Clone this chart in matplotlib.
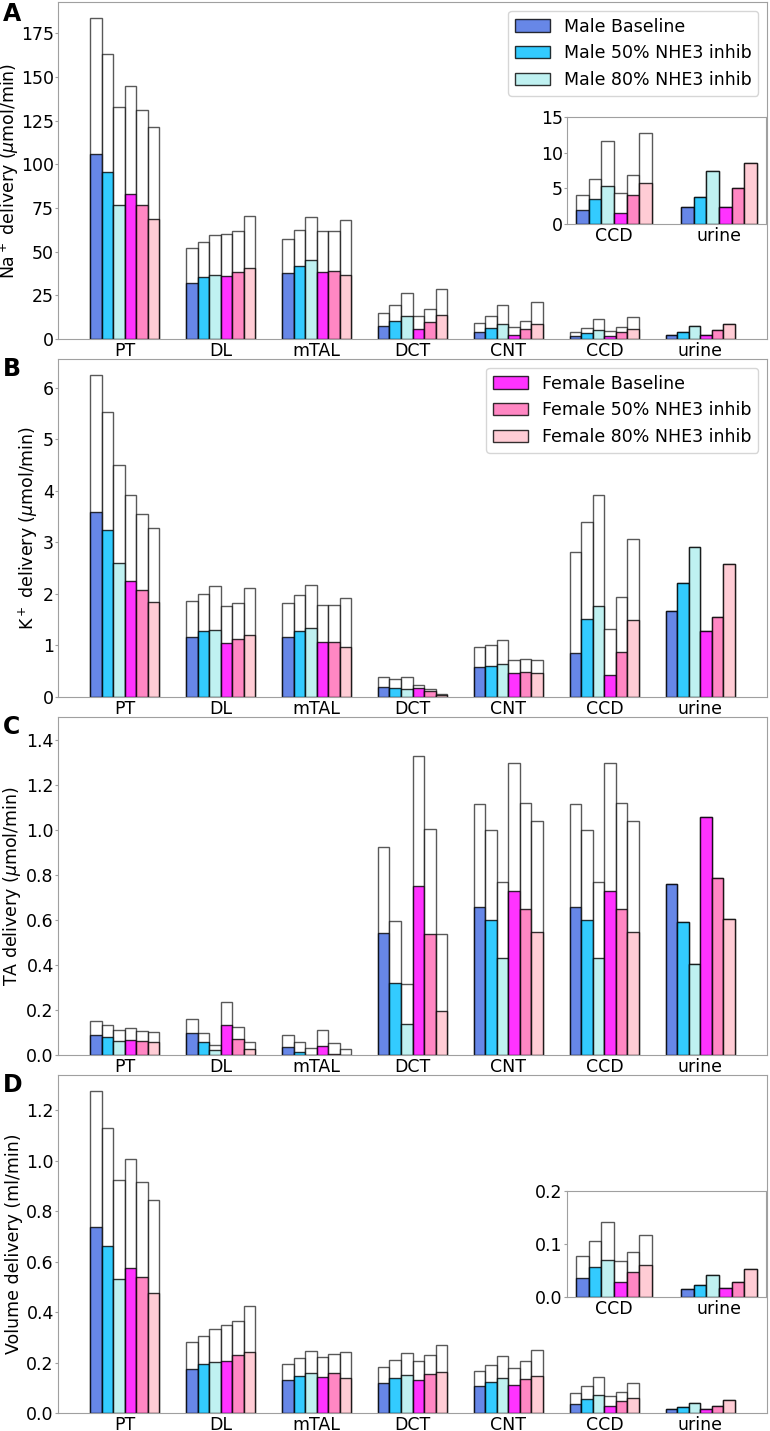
import numpy as np
import matplotlib
matplotlib.use('Agg')
import matplotlib.pyplot as plt

segs = ['PT', 'DL', 'mTAL', 'DCT', 'CNT', 'CCD', 'urine']
series = ['Male Baseline', 'Male 50% NHE3 inhib', 'Male 80% NHE3 inhib',
          'Female Baseline', 'Female 50% NHE3 inhib', 'Female 80% NHE3 inhib']
cores = ['royalblue', 'deepskyblue', 'paleturquoise', 'magenta', 'hotpink', 'pink']

# valores: linha = segmento, coluna = serie
# "tot" = barra branca (entrada), "col" = barra colorida (saida)
na_tot = [[183.8, 163.0, 132.7, 145.1, 131.0, 121.2],
          [51.9, 55.5, 59.3, 60.2, 61.8, 70.7],
          [57.0, 62.3, 70.0, 61.8, 61.8, 68.1],
          [14.9, 19.4, 26.3, 13.0, 17.2, 28.8],
          [9.2, 13.2, 19.6, 6.7, 10.3, 21.0],
          [4.0, 6.3, 11.7, 4.4, 6.9, 12.7],
          [2.4, 3.8, 7.5, 2.4, 5.0, 8.6]]
na_col = [[106.0, 95.5, 76.6, 82.9, 77.0, 68.6],
          [32.0, 35.5, 36.4, 35.8, 38.3, 40.6],
          [37.6, 41.7, 45.0, 38.1, 38.7, 36.6],
          [7.2, 10.3, 13.2, 5.7, 9.9, 13.7],
          [3.8, 6.3, 8.8, 2.3, 5.7, 8.8],
          [1.9, 3.5, 5.3, 1.6, 4.0, 5.8],
          [2.4, 3.8, 7.5, 2.4, 5.0, 8.6]]

k_tot = [[6.25, 5.53, 4.51, 3.93, 3.56, 3.28],
         [1.86, 2.00, 2.15, 1.77, 1.83, 2.11],
         [1.83, 1.99, 2.17, 1.78, 1.78, 1.92],
         [0.38, 0.34, 0.38, 0.23, 0.15, 0.06],
         [0.97, 1.01, 1.11, 0.72, 0.74, 0.72],
         [2.82, 3.39, 3.92, 1.32, 1.94, 3.07],
         [1.67, 2.21, 2.91, 1.28, 1.56, 2.58]]
k_col = [[3.60, 3.24, 2.61, 2.25, 2.08, 1.85],
         [1.17, 1.28, 1.31, 1.04, 1.12, 1.20],
         [1.17, 1.28, 1.34, 1.06, 1.06, 0.98],
         [0.19, 0.17, 0.16, 0.17, 0.11, 0.04],
         [0.58, 0.61, 0.64, 0.47, 0.49, 0.47],
         [0.85, 1.52, 1.76, 0.43, 0.87, 1.50],
         [1.67, 2.21, 2.91, 1.28, 1.56, 2.58]]

ta_tot = [[0.151, 0.135, 0.111, 0.120, 0.107, 0.102],
          [0.158, 0.098, 0.044, 0.235, 0.124, 0.058],
          [0.090, 0.058, 0.033, 0.111, 0.053, 0.028],
          [0.923, 0.596, 0.314, 1.329, 1.002, 0.537],
          [1.114, 0.997, 0.767, 1.296, 1.120, 1.037],
          [1.114, 0.997, 0.767, 1.296, 1.120, 1.037],
          [0.759, 0.589, 0.404, 1.055, 0.786, 0.602]]
ta_col = [[0.087, 0.078, 0.064, 0.068, 0.062, 0.056],
          [0.096, 0.058, 0.022, 0.133, 0.071, 0.027],
          [0.034, 0.012, 0.002, 0.038, 0.003, 0.002],
          [0.542, 0.318, 0.138, 0.749, 0.539, 0.194],
          [0.657, 0.598, 0.432, 0.728, 0.648, 0.545],
          [0.657, 0.598, 0.432, 0.728, 0.648, 0.545],
          [0.759, 0.589, 0.404, 1.055, 0.786, 0.602]]

vol_tot = [[1.275, 1.130, 0.922, 1.008, 0.914, 0.842],
           [0.282, 0.305, 0.332, 0.347, 0.366, 0.423],
           [0.196, 0.216, 0.244, 0.220, 0.233, 0.242],
           [0.184, 0.208, 0.238, 0.207, 0.230, 0.268],
           [0.168, 0.192, 0.224, 0.179, 0.204, 0.250],
           [0.078, 0.105, 0.141, 0.068, 0.084, 0.117],
           [0.016, 0.023, 0.041, 0.017, 0.029, 0.052]]
vol_col = [[0.735, 0.660, 0.532, 0.575, 0.540, 0.474],
           [0.175, 0.195, 0.203, 0.204, 0.230, 0.241],
           [0.132, 0.148, 0.160, 0.143, 0.159, 0.138],
           [0.119, 0.139, 0.152, 0.130, 0.156, 0.164],
           [0.105, 0.124, 0.140, 0.109, 0.136, 0.148],
           [0.036, 0.057, 0.070, 0.029, 0.047, 0.061],
           [0.016, 0.023, 0.041, 0.017, 0.029, 0.052]]

largura = 0.12
cinza = '#a0a0a0'


def barras(ax, tot, col, idx):
    tot = np.array(tot)[idx]
    col = np.array(col)[idx]
    x = np.arange(len(idx))
    for j in range(6):
        pos = x + (j - 2.5) * largura
        ax.bar(pos, tot[:, j], largura, color='white', edgecolor='k', alpha=0.65, linewidth=1)
        ax.bar(pos, col[:, j], largura, color=cores[j], edgecolor='k', alpha=0.8,
               linewidth=1, label=series[j])
    ax.set_xticks(x)
    ax.set_xticklabels([segs[i] for i in idx])
    for s in ax.spines.values():
        s.set_color(cinza)
    ax.tick_params(axis='y', length=2, color=cinza, labelsize=12.5, pad=1)
    ax.tick_params(axis='x', length=0, labelsize=12.5, pad=2)


fig = plt.figure(figsize=(7.7, 14.31), dpi=100)
W, H = 770.0, 1431.0


def eixo(l, t, r, b):
    return fig.add_axes([l / W, 1 - b / H, (r - l) / W, (b - t) / H])


tudo = list(range(7))
ax1 = eixo(58, 2, 767, 339)
barras(ax1, na_tot, na_col, tudo)
ax1.set_ylabel(r'Na$^+$ delivery ($\mu$mol/min)', fontsize=12.5, labelpad=0)
h, l = ax1.get_legend_handles_labels()
ax1.legend(h[:3], l[:3], loc='upper right', fontsize=12.5)

in1 = eixo(567, 117, 766, 224)
barras(in1, na_tot, na_col, [5, 6])
in1.set_ylim(0, 15)
in1.set_yticks([0, 5, 10, 15])

ax2 = eixo(58, 359, 767, 697)
barras(ax2, k_tot, k_col, tudo)
ax2.set_ylabel(r'K$^+$ delivery ($\mu$mol/min)', fontsize=12.5, labelpad=2)
h, l = ax2.get_legend_handles_labels()
ax2.legend(h[3:], l[3:], loc='upper right', fontsize=12.5)

ax3 = eixo(58, 717, 767, 1055)
barras(ax3, ta_tot, ta_col, tudo)
ax3.set_ylim(0, 1.5)
ax3.set_yticks(np.arange(0, 1.41, 0.2))
ax3.set_ylabel(r'TA delivery ($\mu$mol/min)', fontsize=12.5, labelpad=2)

ax4 = eixo(58, 1075, 767, 1413)
barras(ax4, vol_tot, vol_col, tudo)
ax4.set_ylabel('Volume delivery (ml/min)', fontsize=12.5, labelpad=2)

in4 = eixo(567, 1191, 766, 1297)
barras(in4, vol_tot, vol_col, [5, 6])
in4.set_ylim(0, 0.2)
in4.set_yticks([0.0, 0.1, 0.2])

for letra, y in zip('ABCD', [2, 357, 715, 1073]):
    fig.text(3 / W, 1 - y / H, letra, fontsize=17, fontweight='bold', va='top', ha='left')

fig.savefig('out.png', dpi=100)
